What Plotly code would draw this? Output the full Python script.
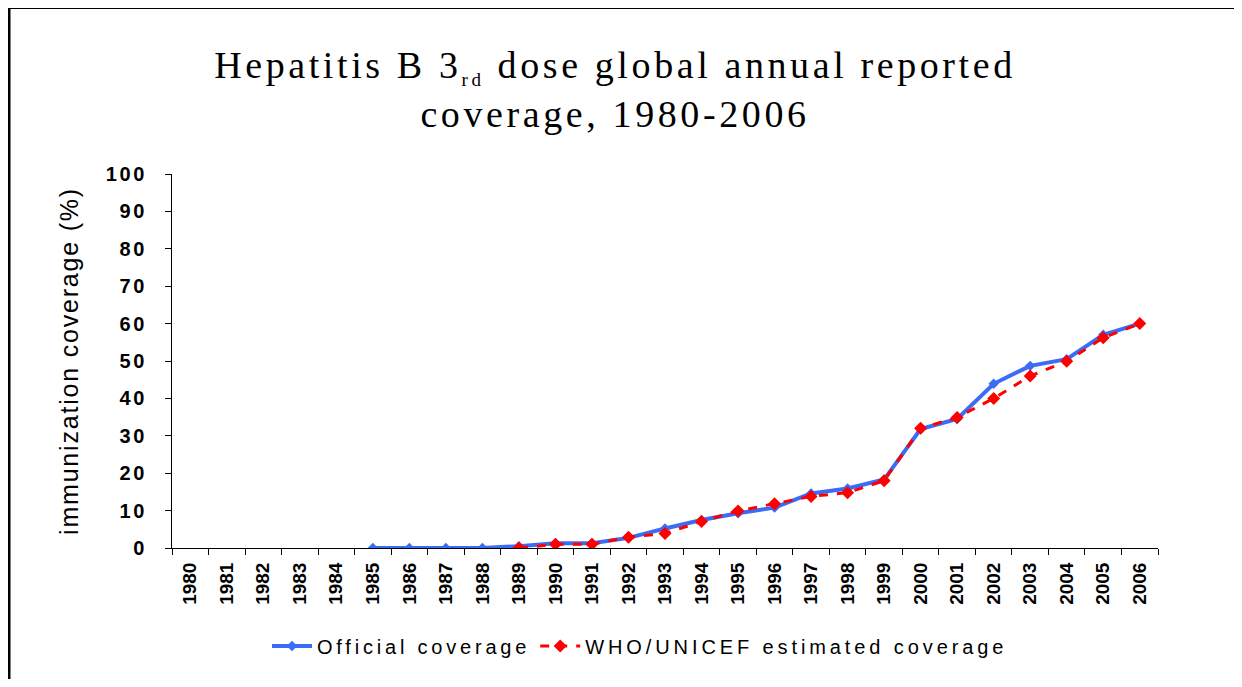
import plotly.graph_objects as go

years = [str(y) for y in range(1980, 2007)]
official = [None] * 5 + [0, 0, 0, 0, 0.5, 1.3, 1.3, 2.7, 5.2, 7.5, 9.3, 10.8,
                         14.6, 15.9, 18.3, 31.8, 34.5, 43.9, 48.7, 50.5, 57, 60]
who_unicef = [None] * 9 + [0, 1.0, 1.0, 2.9, 3.9, 7.1, 9.9, 11.8, 13.8, 14.8,
                           18, 32, 34.9, 40, 46, 49.9, 56.2, 60]
y_ticks = [0, 10, 20, 30, 40, 50, 60, 70, 80, 90, 100]

# page is rendered with an 8px body margin: work in page pixels, offset by 8
OFF = 8
PAGE_W, PAGE_H = 1242, 687
W, H = PAGE_W - 2 * OFF, PAGE_H - 2 * OFF
PL, PR, PT, PB = 172, 1158, 174, 548  # plot area in page pixels
ML, MT = PL - OFF, PT - OFF
PW, PH = PR - PL, PB - PT
MR, MB = W - ML - PW, H - MT - PH


def px_x(p):
    return (p - PL) / PW


def px_y(p):
    return (PB - p) / PH


def sp(text, ls):
    return f'<span style="letter-spacing:{ls}px">{text}</span>'


fig = go.Figure()
fig.add_trace(go.Scatter(
    x=years, y=official, mode="lines+markers", name=sp("Official coverage", 3.8),
    line=dict(color="#3B6CF6", width=4),
    marker=dict(symbol="diamond", size=8, color="#3B6CF6"),
))
fig.add_trace(go.Scatter(
    x=years, y=who_unicef, mode="lines+markers",
    name=sp("WHO/UNICEF estimated coverage", 3.9),
    line=dict(color="#FF0000", width=3, dash="dash"),
    marker=dict(symbol="diamond", size=10, color="#FF0000"),
))

title_text = ('Hepatitis B 3<sub><span style="font-size:19px">rd</span></sub> '
              'dose global annual reported<br>coverage, 1980-2006')

fig.update_layout(
    width=W, height=H,
    margin=dict(l=ML, r=MR, t=MT, b=MB, pad=0),
    paper_bgcolor="white", plot_bgcolor="white",
    font=dict(family="Liberation Sans, Arial, sans-serif", color="black"),
    title=dict(
        text=sp(title_text, 3.6),
        font=dict(family="Liberation Serif, Times New Roman, serif", size=38, color="black"),
        x=px_x(615), xanchor="center", xref="paper",
        y=1 - (78 - OFF) / H, yanchor="middle",
    ),
    xaxis=dict(
        type="category", categoryorder="array", categoryarray=years,
        tickmode="array", tickvals=years, ticktext=years,
        tickangle=-90, tickson="boundaries", ticks="outside", ticklen=6,
        tickcolor="black", tickwidth=1, ticklabelstandoff=6,
        tickfont=dict(size=19, family="Liberation Sans, Arial, sans-serif", weight="bold"),
        showline=True, linecolor="black", linewidth=1,
        showgrid=False, zeroline=False, range=[-0.5, 26.5],
    ),
    yaxis=dict(
        range=[0, 100], tickmode="array", tickvals=y_ticks,
        ticktext=[sp(v, 2.6) for v in y_ticks],
        ticks="outside", ticklen=6, tickcolor="black", tickwidth=1,
        ticklabelstandoff=14,
        tickfont=dict(size=20, family="Liberation Sans, Arial, sans-serif", weight="bold"),
        showline=True, linecolor="black", linewidth=1,
        showgrid=False, zeroline=False,
        title=dict(text=sp("immunization coverage (%)", 1.8),
                   font=dict(size=25, family="Liberation Sans, Arial, sans-serif"),
                   standoff=20),
    ),
    legend=dict(
        orientation="h", x=px_x(640), xanchor="center",
        y=px_y(646), yanchor="middle",
        font=dict(size=20, family="Liberation Sans, Arial, sans-serif"),
        bgcolor="rgba(0,0,0,0)", itemwidth=40,
    ),
    shapes=[
        dict(type="line", xref="paper", yref="paper",
             x0=px_x(9), x1=px_x(9), y0=px_y(6), y1=px_y(PAGE_H + 5),
             line=dict(color="black", width=3)),
        dict(type="line", xref="paper", yref="paper",
             x0=px_x(8), x1=px_x(PAGE_W + 5), y0=px_y(7.5), y1=px_y(7.5),
             line=dict(color="black", width=3)),
    ],
)

fig.write_html("out.html")
